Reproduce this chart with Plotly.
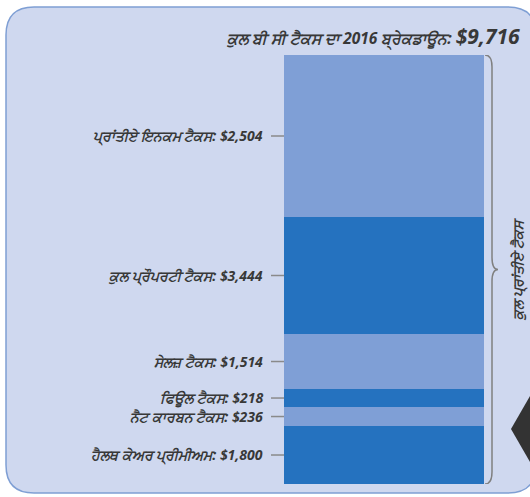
import plotly.graph_objects as go

# ---- data ----
categories = ["ਪ੍ਰਾਂਤੀਏ ਇਨਕਮ ਟੈਕਸ", "ਕੁਲ ਪ੍ਰੌਪਰਟੀ ਟੈਕਸ", "ਸੇਲਜ਼ ਟੈਕਸ",
              "ਫਿਊਲ ਟੈਕਸ", "ਨੈਟ ਕਾਰਬਨ ਟੈਕਸ", "ਹੈਲਥ ਕੇਅਰ ਪ੍ਰੀਮੀਅਮ"]
label_values = [2504, 3444, 1514, 218, 236, 1800]
# segment sizes as drawn in the source graphic (it is not drawn to scale)
drawn_heights = [3669, 2650, 1246, 408, 430, 1313]
total_value = 9716
title_text = "ਕੁਲ ਬੀ ਸੀ ਟੈਕਸ ਦਾ 2016 ਬ੍ਰੇਕਡਾਊਨ:"
brace_text = "ਕੁਲ ਪ੍ਰਾਂਤੀਏ ਟੈਕਸ"

# ---- style ----
W, H = 530, 497
LIGHT, DARK = "#7f9fd6", "#2572bf"
seg_colors = [LIGHT, DARK, LIGHT, DARK, LIGHT, DARK]
TXT = "#383838"
FONT = "Open Sans, Noto Sans, sans-serif"
BG = "#cfd8ef"
BORDER = "#7f9fd4"


def X(px):
    return px / W


def Y(py):
    return 1 - py / H


bar_top_px, bar_bot_px = 55, 484
bar_l_px, bar_r_px = 284, 484

fig = go.Figure()
# stack from bottom up
for name, h, c in reversed(list(zip(categories, drawn_heights, seg_colors))):
    fig.add_trace(go.Bar(x=[0], y=[h], name=name, marker=dict(color=c, line=dict(width=0)),
                         width=1, hoverinfo="skip", showlegend=False))

shapes = []
annotations = []

# rounded background panel
x0, x1, y0, y1, r = 6, 536, 7, 493, 28
path = (f"M {X(x0+r)},{Y(y0)} L {X(x1-r)},{Y(y0)} Q {X(x1)},{Y(y0)} {X(x1)},{Y(y0+r)} "
        f"L {X(x1)},{Y(y1-r)} Q {X(x1)},{Y(y1)} {X(x1-r)},{Y(y1)} "
        f"L {X(x0+r)},{Y(y1)} Q {X(x0)},{Y(y1)} {X(x0)},{Y(y1-r)} "
        f"L {X(x0)},{Y(y0+r)} Q {X(x0)},{Y(y0)} {X(x0+r)},{Y(y0)} Z")
shapes.append(dict(type="path", xref="paper", yref="paper", path=path,
                   fillcolor=BG, line=dict(color=BORDER, width=1.5), layer="below"))

# labels and leader lines
top = total_value
for name, v, h in zip(categories, label_values, drawn_heights):
    mid = top - h / 2
    top -= h
    annotations.append(dict(x=X(265), y=mid, xref="paper", yref="y", xanchor="right",
                            yanchor="middle", showarrow=False,
                            text=f"<b><i>{name}: ${v:,}</i></b>",
                            font=dict(size=14, color=TXT, family=FONT)))
    shapes.append(dict(type="line", xref="paper", yref="y", x0=X(271), x1=X(284),
                       y0=mid, y1=mid, line=dict(color="#8a8a8a", width=1.5)))

# title
annotations.append(dict(x=X(522), y=Y(36), xref="paper", yref="paper", xanchor="right",
                        yanchor="middle", showarrow=False,
                        text=f"<b><i>{title_text} <span style='font-size:21px'>${total_value:,}</span></i></b>",
                        font=dict(size=15.5, color=TXT, family=FONT)))

# curly brace covering all segments
xb, xc, xt = X(492), X(485), X(498)
yt, yb, ym = total_value, 0, total_value / 2
rr = total_value / (bar_bot_px - bar_top_px) * 12
bpath = (f"M {xc},{yt} Q {xb},{yt} {xb},{yt-rr} L {xb},{ym+rr} Q {xb},{ym} {xt},{ym} "
         f"Q {xb},{ym} {xb},{ym-rr} L {xb},{yb+rr} Q {xb},{yb} {xc},{yb}")
shapes.append(dict(type="path", xref="paper", yref="y", path=bpath,
                   line=dict(color="#808080", width=1.5)))
annotations.append(dict(x=X(517), y=ym, xref="paper", yref="y", textangle=-90,
                        showarrow=False, xanchor="center", yanchor="middle",
                        text=f"<b><i>{brace_text}</i></b>",
                        font=dict(size=14, color=TXT, family=FONT)))

# dark arrow at right edge
apath = f"M {X(511)},{Y(429)} L {X(530)},{Y(396)} L {X(548)},{Y(429)} L {X(530)},{Y(462)} Z"
shapes.append(dict(type="path", xref="paper", yref="paper", path=apath,
                   fillcolor="#333333", line=dict(width=0)))

fig.update_layout(
    width=W, height=H, margin=dict(l=0, r=0, t=0, b=0),
    paper_bgcolor="white", plot_bgcolor="rgba(0,0,0,0)",
    barmode="stack", bargap=0,
    xaxis=dict(domain=[X(bar_l_px), X(bar_r_px)], range=[-0.5, 0.5], visible=False, fixedrange=True),
    yaxis=dict(domain=[Y(bar_bot_px), Y(bar_top_px)], range=[0, total_value], visible=False, fixedrange=True),
    shapes=shapes, annotations=annotations,
)

fig.write_html("out.html", config={"displayModeBar": False},
               post_script="document.body.style.margin='0';document.body.style.overflow='hidden';")
